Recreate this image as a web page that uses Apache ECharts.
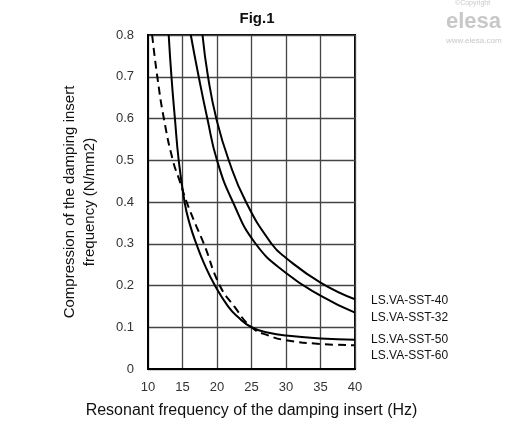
<!DOCTYPE html>
<html><head><meta charset="utf-8">
<script src="https://cdn.jsdelivr.net/npm/echarts@6/dist/echarts.min.js"></script>
<style>html,body{margin:0;padding:0;background:#fff}#c{width:512px;height:430px}</style>
</head><body><div id="c"></div>
<script>
const title = 'Fig.1';
const xName = 'Resonant frequency of the damping insert (Hz)';
const yName = 'Compression of the damping insert\nfrequency (N/mm2)';
const seriesNames = ['LS.VA-SST-40','LS.VA-SST-32','LS.VA-SST-50','LS.VA-SST-60'];
const sst40 = [[17.9,0.8],[18.7,0.7],[19.9,0.6],[21.7,0.5],[24.2,0.4],[27.9,0.3],[30,0.266],[35,0.207],[40,0.167]];
const sst32 = [[16.2,0.8],[17.35,0.7],[18.6,0.6],[20.0,0.5],[22.3,0.4],[25.6,0.3],[30,0.23],[35,0.176],[40,0.135]];
const sst50 = [[13.0,0.8],[13.4,0.7],[13.9,0.6],[14.45,0.5],[15.3,0.4],[16.0,0.35],[17.0,0.3],[18.2,0.25],[19.7,0.2],[21.6,0.15],[23,0.125],[25,0.1],[27.5,0.087],[30,0.08],[35,0.073],[40,0.07]];
const sst60 = [[10.6,0.8],[11.35,0.7],[12.3,0.6],[13.6,0.5],[14.6,0.45],[15.6,0.4],[16.8,0.35],[18.1,0.3],[20.4,0.2],[22.5,0.15],[25,0.1],[27.5,0.08],[30,0.069],[35,0.06],[40,0.057]];
const labelOffsets = [[8,1],[8,5],[8,0],[8,10]];

const font = 'Arial, "Liberation Sans", sans-serif';
const chart = echarts.init(document.getElementById('c'));
const datas = [sst40, sst32, sst50, sst60];
chart.setOption({
  animation:false,
  title:{text:title,left:252,top:6,textAlign:'center',textStyle:{fontFamily:font,fontSize:15,fontWeight:'bold',color:'#111'}},
  graphic:[
    {type:'text',left:455,top:0,style:{text:'©Copyright',font:'7px Arial',fill:'#c8c8c8'}},
    {type:'text',left:446,top:11,style:{text:'elesa',font:'bold 22px Arial',fill:'#c8c8c8'}},
    {type:'text',left:446,top:37,style:{text:'www.elesa.com',font:'8px Arial',fill:'#c8c8c8'}}
  ],
  grid:{left:148,right:157,top:35,bottom:61,show:true,borderColor:'#000',borderWidth:2},
  xAxis:{type:'value',min:10,max:40,interval:5,
    name:xName,nameLocation:'middle',nameGap:34,
    nameTextStyle:{fontFamily:font,fontSize:16,color:'#111'},
    axisLine:{lineStyle:{color:'#000',width:2}},axisTick:{show:false},
    axisLabel:{fontFamily:font,fontSize:13,color:'#333',margin:12},
    splitLine:{lineStyle:{color:'#444',width:1.3}}},
  yAxis:{type:'value',min:0,max:0.8,interval:0.1,
    name:yName,nameLocation:'middle',nameGap:48,nameRotate:90,
    nameTextStyle:{fontFamily:font,fontSize:15,color:'#111',lineHeight:20},
    axisLine:{show:true,lineStyle:{color:'#000',width:2}},axisTick:{show:false},
    axisLabel:{fontFamily:font,fontSize:13,color:'#333',margin:14},
    splitLine:{lineStyle:{color:'#444',width:1.3}}},
  series: datas.map((d,i)=>({
    name:seriesNames[i],type:'line',data:d,smooth:0.5,symbol:'none',clip:true,
    lineStyle:{color:'#000',width:2,type:i===3?[8,5]:'solid'},
    endLabel:{show:true,formatter:seriesNames[i],fontFamily:font,fontSize:12,color:'#111',
      offset:labelOffsets[i]}
  }))
});
</script></body></html>
